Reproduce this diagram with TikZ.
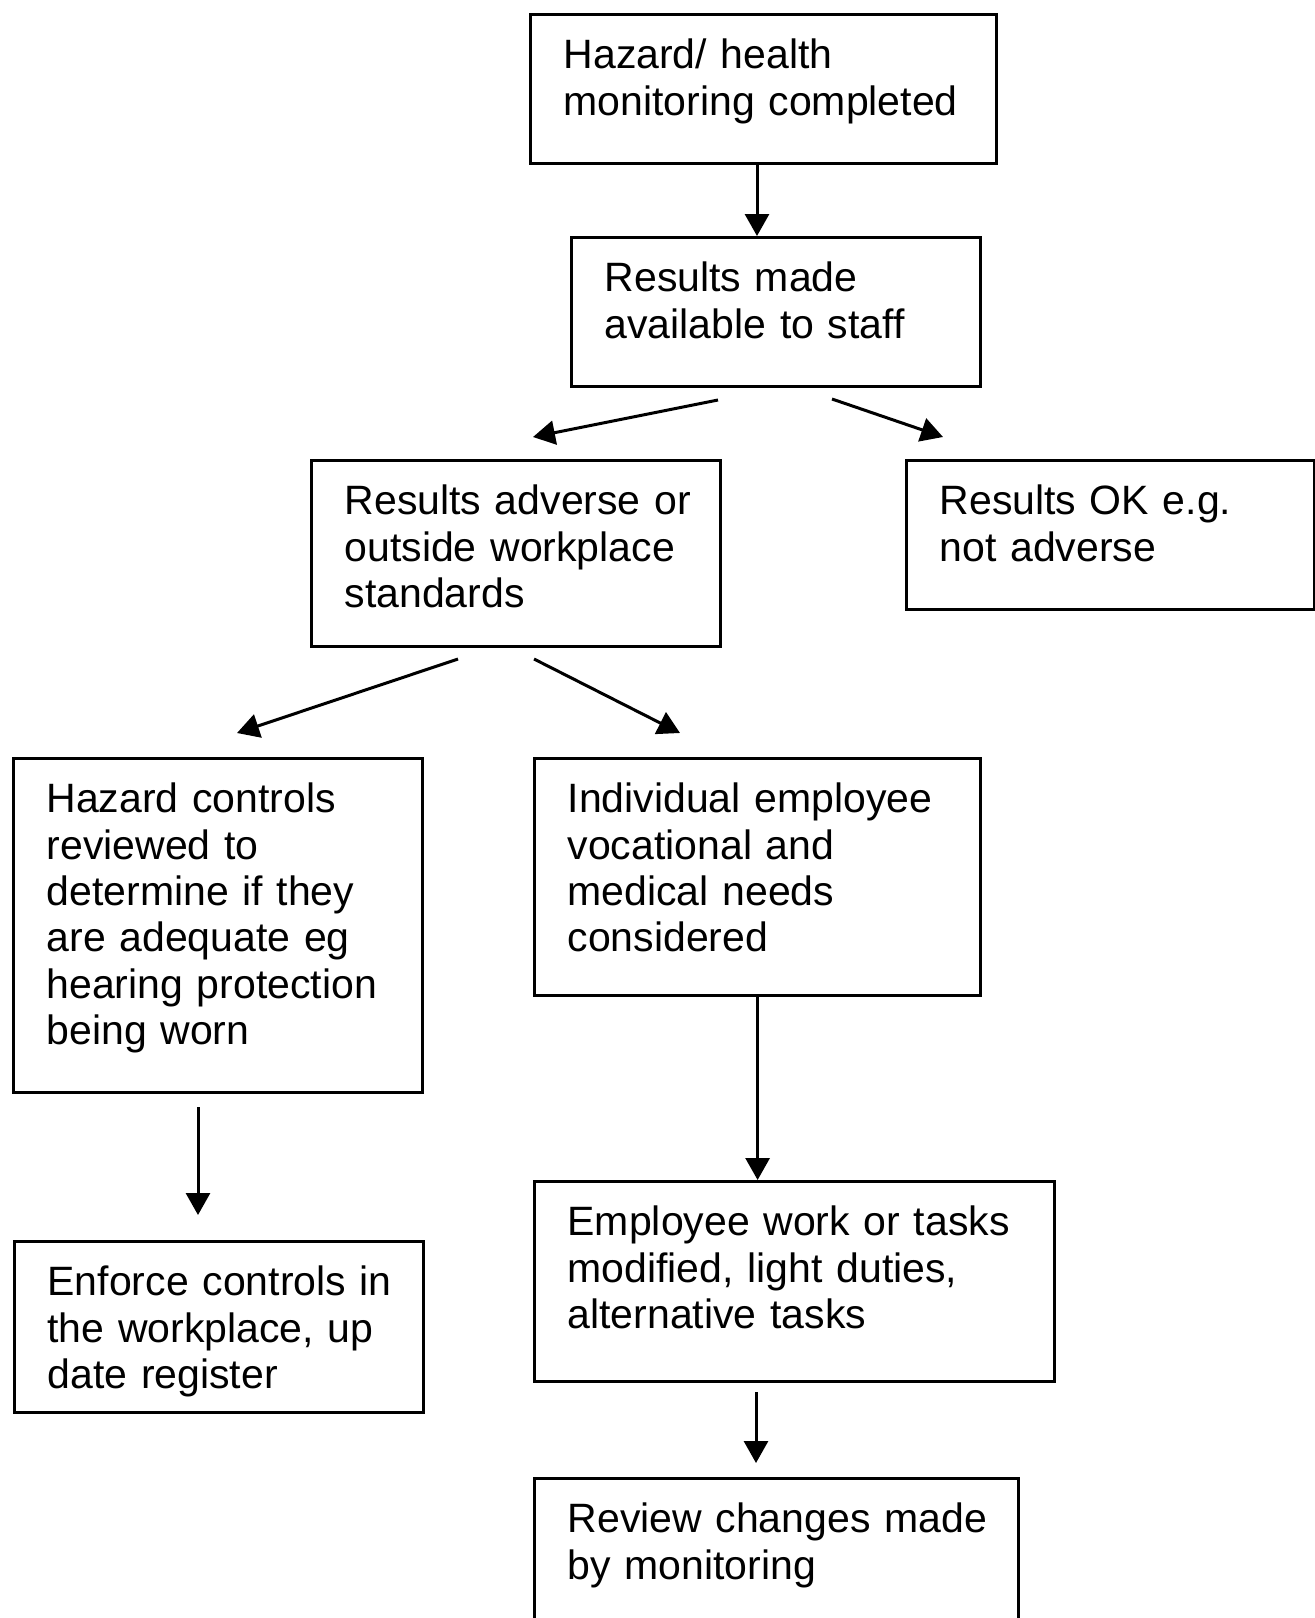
\documentclass[tikz,border=0pt]{standalone}
\usepackage{fontspec}
\setmainfont{Liberation Sans}
\usetikzlibrary{arrows.meta,positioning}
\hyphenpenalty=10000
\exhyphenpenalty=10000

\tikzset{
  stepbox/.style={draw,line width=1.6pt,anchor=north west,align=left,
    inner xsep=16.5pt,inner ysep=0pt,text height=27pt,
    font=\fontsize{20.5}{23.2}\selectfont},
  arr/.style={-{Triangle[length=11pt,width=12pt]},line width=1.5pt}
}

\begin{document}
\begin{tikzpicture}[x=0.5pt,y=-0.5pt]
  \useasboundingbox (0,0) rectangle (1314,1618);
  % boxes
  \node[stepbox,text width=200pt,text depth=47.5pt] (done) at (529,13) {Hazard/ health\\monitoring~completed};
  \node[stepbox,text width=171.5pt,text depth=47.5pt] (avail) at (570,236) {Results made\\available to staff};
  \node[stepbox,text width=171.5pt,text depth=66pt] (adverse) at (310,459) {Results~adverse~or\\outside workplace\\standards};
  \node[stepbox,text width=171pt,text depth=47.5pt] (ok) at (905,459) {Results OK e.g.\\not adverse};
  \node[stepbox,text width=171.5pt,text depth=140pt] (review) at (12,757) {Hazard controls\\reviewed to\\determine if they\\are adequate eg\\hearing~protection\\being worn};
  \node[stepbox,text width=190pt,text depth=91.5pt] (needs) at (533,757) {Individual employee\\vocational and\\medical needs\\considered};
  \node[stepbox,text width=171.5pt,text depth=58.5pt] (enforce) at (13,1240) {Enforce~controls~in\\the~workplace,~up\\date register};
  \node[stepbox,text width=227pt,text depth=73pt] (modify) at (533,1180) {Employee~work~or~tasks\\modified,~light~duties,\\alternative tasks};
  \node[stepbox,text width=209pt,text depth=73pt] (check) at (533,1477) {Review~changes~made\\by monitoring};
  % free arrow ends
  \coordinate (a1) at (757,0);
  \coordinate (s1) at (718,400); \coordinate (e1) at (533,437);
  \coordinate (s2) at (832,399); \coordinate (e2) at (943,437);
  \coordinate (s3) at (458,659); \coordinate (e3) at (237,733);
  \coordinate (s4) at (534,659); \coordinate (e4) at (680,733);
  \coordinate (s5) at (198,1107); \coordinate (e5) at (198,1215);
  \coordinate (s6) at (756,1392); \coordinate (e6) at (756,1463);
  % arrows
  \draw[arr] (done.south -| a1) -- (avail.north -| a1);
  \draw[arr] (s1) -- (e1);
  \draw[arr] (s2) -- (e2);
  \draw[arr] (s3) -- (e3);
  \draw[arr] (s4) -- (e4);
  \draw[arr] (needs.south) -- (needs.south |- modify.north);
  \draw[arr] (s5) -- (e5);
  \draw[arr] (s6) -- (e6);
\end{tikzpicture}
\end{document}
